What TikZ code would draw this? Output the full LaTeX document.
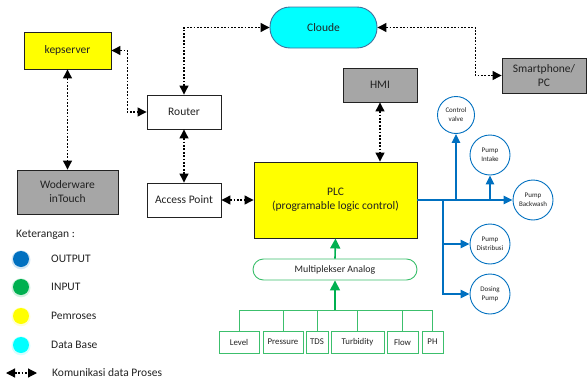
\documentclass[tikz,border=0pt]{standalone}
\usepackage{fontspec}
\setmainfont{Carlito}
\usetikzlibrary{arrows.meta}
\definecolor{outblue}{HTML}{0070C0}
\definecolor{ingreen}{HTML}{00B050}
\definecolor{lgreen}{HTML}{3CBF6C}
\definecolor{procyellow}{HTML}{FFFF00}
\definecolor{dbcyan}{HTML}{00FFFF}
\definecolor{cloudedge}{HTML}{41719C}
\definecolor{boxgray}{HTML}{A6A6A6}
\definecolor{ink}{HTML}{222222}
\tikzset{
  base/.style={draw=ink, line width=0.9pt, inner sep=0pt, align=center, text=ink,
    font=\fontsize{11.5}{14}\selectfont},
  whitebox/.style={base, fill=white},
  yellowbox/.style={base, fill=procyellow},
  graybox/.style={base, fill=boxgray},
  outcircle/.style={circle, draw=outblue, line width=0.9pt, fill=white, inner sep=0pt,
    minimum size=40pt, align=center, text=ink, font=\fontsize{7}{9}\selectfont},
  sensor/.style={draw=lgreen, line width=0.9pt, fill=white, inner sep=0pt,
    minimum height=22pt, text=ink, font=\fontsize{8.8}{10}\selectfont},
  comm/.style={line width=1.2pt, dash pattern=on 1.8pt off 1.6pt,
    {Triangle[length=9pt,width=9pt]}-{Triangle[length=9pt,width=9pt]}},
  outline/.style={draw=outblue, line width=1.3pt},
  outarrow/.style={outline, -{Triangle[length=9pt,width=8.5pt]}},
  inline/.style={draw=lgreen, line width=1pt},
  inarrow/.style={draw=ingreen, line width=1.6pt, -{Triangle[length=10pt,width=10pt]}},
  legdot/.style={circle, inner sep=0pt, minimum size=16pt},
  legtext/.style={anchor=west, inner sep=0pt, text=ink, font=\fontsize{11.5}{14}\selectfont},
}
\begin{document}
\begin{tikzpicture}[x=1pt,y=-1pt]
\useasboundingbox (0,0) rectangle (587,383);

% network side
\node[yellowbox, minimum width=87pt, minimum height=37pt] (kep) at (67.5,50.5) {kepserver};
\node[whitebox, minimum width=74pt, minimum height=34pt] (router) at (184,112) {Router};
\node[graybox, minimum width=101pt, minimum height=44pt] (wod) at (67.5,192) {Woderware\\inTouch};
\node[whitebox, minimum width=74pt, minimum height=34pt] (ap) at (184,200) {Access Point};
\node[base, draw=cloudedge, fill=dbcyan, rounded corners=20pt, minimum width=107pt,
  minimum height=41pt] (cloud) at (323.5,27.5) {Cloude};
\node[graybox, minimum width=84pt, minimum height=35pt] (smart) at (544,75.5) {Smartphone/\\PC};
\node[graybox, minimum width=74pt, minimum height=34pt] (hmi) at (380,85) {HMI};
\node[yellowbox, minimum width=163pt, minimum height=76pt] (plc) at (335.5,200)
  {PLC\\(programable logic control)};

% communication links
\draw[comm] (kep.east) -- ++(16,0) |- (router.west);
\draw[comm] (router.north) |- (cloud.west);
\draw[comm] (cloud.east) -- ++(98,0) |- (smart.west);
\draw[comm] (kep.south) -- (wod.north);
\draw[comm] (router.south) -- (ap.north);
\draw[comm] (ap.east) -- (plc.west);
\draw[comm] (hmi.south) -- (hmi.south |- plc.north);

% outputs
\node[outcircle, minimum size=37pt] (cv) at (456,115) {Control\\valve};
\node[outcircle] (pi) at (490,155) {Pump\\Intake};
\node[outcircle] (bw) at (533,200) {Pump\\Backwash};
\node[outcircle] (pd) at (490,244) {Pump\\Distribusi};
\node[outcircle] (dp) at (490,294) {Dosing\\Pump};
\coordinate (br) at (443,200);
\draw[outarrow] (plc.east) -- (bw.west);
\draw[outarrow] (cv.south |- plc.east) -- (cv.south);
\draw[outarrow] (pi.south |- plc.east) -- (pi.south);
\draw[outarrow] (br) |- (pd.west);
\draw[outarrow] (br) |- (dp.west);

% inputs
\node[base, draw=lgreen, fill=white, rounded corners=10.5pt, minimum width=164pt,
  minimum height=21pt, font=\fontsize{9.9}{12}\selectfont] (mux) at (335,269.5) {Multiplekser Analog};
\node[sensor, minimum width=40pt] (s1) at (239,342) {Level};
\node[sensor, minimum width=40pt] (s2) at (283,342) {Pressure};
\node[sensor, minimum width=22pt] (s3) at (317,342) {TDS};
\node[sensor, minimum width=53pt] (s4) at (357.5,342) {Turbidity};
\node[sensor, minimum width=31pt] (s5) at (402.5,342) {Flow};
\node[sensor, minimum width=21pt] (s6) at (432.5,342) {PH};
\coordinate (busL) at (239,310);
\coordinate (busR) at (432.5,310);
\coordinate (busM) at (335,310);
\draw[inline] (busL) -- (busR);
\foreach \s in {s1,s2,s3,s4,s5,s6} \draw[inline] (\s.north |- busL) -- (\s.north);
\draw[inarrow] (busM) -- (mux.south);
\draw[inarrow] (mux.north) -- (plc.south);

% legend
\node[legtext] (ket) at (16,235) {Keterangan :};
\foreach \y/\c/\t/\n in {259/outblue/OUTPUT/l1, 287/ingreen/INPUT/l2, 316/procyellow/Pemroses/l3, 345/dbcyan/Data Base/l4}{
  \node[legdot, fill=\c!35, opacity=0.5, minimum size=19pt] at (21,\y+0.8) {};
  \node[legdot, fill=\c] (\n) at (21,\y) {};
  \node[legtext] at (51,\y) {\t};
}
\coordinate (la) at (6,373);
\coordinate (lb) at (37,373);
\draw[comm] (la) -- (lb);
\node[legtext] (lt) at (52,373) {Komunikasi data Proses};
\end{tikzpicture}
\end{document}
